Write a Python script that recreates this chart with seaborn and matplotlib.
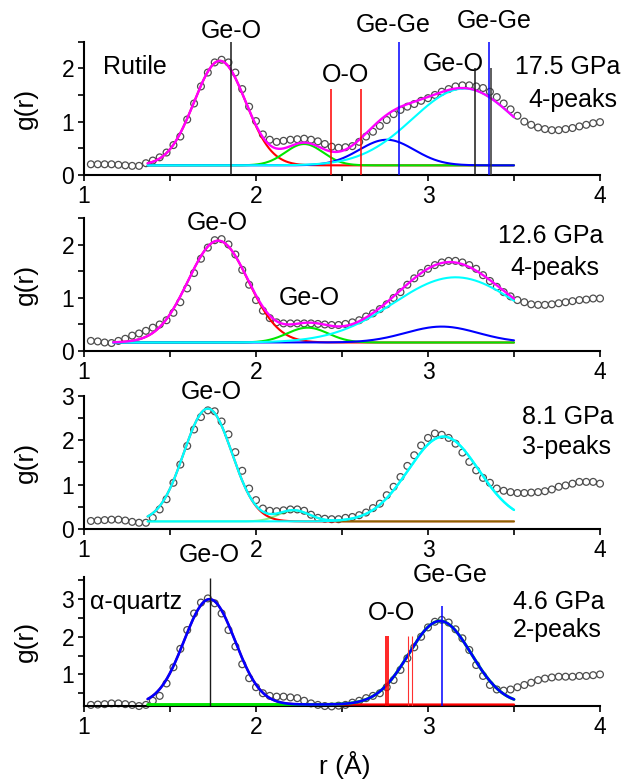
import numpy as np
import matplotlib
matplotlib.use("Agg")
import matplotlib.pyplot as plt
from matplotlib.ticker import MultipleLocator
import seaborn as sns

# measured g(r), one point every 0.04 A from 1.04 to 4.00
r_data = np.linspace(1.04, 4.0, 75)

g_175 = [0.20, 0.20, 0.20, 0.20, 0.19, 0.18, 0.17, 0.17,
         0.22, 0.27, 0.33, 0.42, 0.56, 0.72, 1.04, 1.34, 1.66,
         1.92, 2.11, 2.16, 2.11, 1.92, 1.61, 1.28, 1.01,
         0.76, 0.66, 0.62, 0.64, 0.66, 0.67, 0.68, 0.66, 0.63, 0.58, 0.53, 0.51,
         0.52, 0.54, 0.62, 0.72, 0.81, 0.92, 1.03, 1.14, 1.22, 1.28, 1.33, 1.39,
         1.44, 1.50, 1.56, 1.61, 1.66, 1.68, 1.68, 1.66, 1.63, 1.56, 1.46, 1.34,
         1.23, 1.11, 1.00, 0.94, 0.89, 0.86, 0.84, 0.84, 0.86, 0.88, 0.91, 0.94,
         0.97, 0.99]
g_126 = [0.19, 0.18, 0.16, 0.15, 0.19, 0.23, 0.29, 0.33, 0.38, 0.44,
         0.50, 0.58, 0.72, 0.92, 1.18, 1.47, 1.74, 1.95, 2.09, 2.11,
         2.01, 1.82, 1.53, 1.25, 0.96, 0.76, 0.62, 0.54, 0.52, 0.52,
         0.52, 0.52, 0.52, 0.51, 0.50, 0.49,
         0.49, 0.51, 0.54, 0.58, 0.65, 0.71, 0.79, 0.88, 1.00, 1.11,
         1.25, 1.37, 1.47, 1.55, 1.62, 1.67, 1.70, 1.70, 1.67, 1.62,
         1.55, 1.43, 1.32, 1.21, 1.11, 1.03, 0.96, 0.92, 0.88, 0.87,
         0.87, 0.88, 0.90, 0.92, 0.94, 0.96, 0.97, 0.99, 0.99]
g_81 = [0.18, 0.19, 0.20, 0.21, 0.21, 0.19, 0.16, 0.14, 0.14,
        0.25, 0.44, 0.67, 1.04, 1.45, 1.87, 2.24, 2.52, 2.67, 2.65,
        2.42, 2.13, 1.73, 1.31, 0.91, 0.65, 0.46, 0.41, 0.40, 0.42,
        0.44, 0.44, 0.41, 0.32, 0.25, 0.23, 0.22, 0.22,
        0.25, 0.27, 0.31, 0.37, 0.47, 0.57, 0.76, 0.95, 1.17, 1.42,
        1.66, 1.88, 2.05, 2.15, 2.12, 2.05, 1.92, 1.72, 1.51, 1.32,
        1.15, 1.04, 0.91, 0.86, 0.83, 0.81, 0.81, 0.82, 0.83, 0.85,
        0.89, 0.95, 0.98, 1.02, 1.06, 1.06, 1.06, 1.02]
g_46 = [0.19, 0.20, 0.21, 0.23, 0.23, 0.21, 0.19, 0.16, 0.19,
        0.30, 0.43, 0.76, 1.19, 1.68, 2.18, 2.62, 2.91, 3.02, 2.89,
        2.62, 2.18, 1.74, 1.27, 0.90, 0.66, 0.50, 0.43, 0.41, 0.41,
        0.39, 0.37, 0.30, 0.23, 0.19, 0.16, 0.15, 0.17,
        0.19, 0.25, 0.30, 0.37, 0.43, 0.50, 0.66, 0.85, 1.12, 1.43,
        1.72, 2.00, 2.25, 2.40, 2.45, 2.38, 2.20, 1.96, 1.65, 1.25,
        0.96, 0.72, 0.60, 0.57, 0.60, 0.66, 0.72, 0.78, 0.85, 0.89,
        0.92, 0.94, 0.94, 0.94, 0.96, 0.96, 0.98, 1.00]

# gaussian peak fits: centre, height above baseline, sigma
pk_175_c = [1.79, 2.28, 2.76, 3.21]
pk_175_h = [1.96, 0.40, 0.48, 1.44]
pk_175_s = [0.15, 0.11, 0.16, 0.30]
pk_126_c = [1.78, 2.30, 3.08, 3.16]
pk_126_h = [1.92, 0.28, 0.30, 1.23]
pk_126_s = [0.175, 0.12, 0.21, 0.36]
pk_81_c = [1.72, 2.22, 3.09]
pk_81_h = [2.54, 0.25, 1.91]
pk_81_s = [0.14, 0.09, 0.205]
pk_46_c = [1.73, 3.07]
pk_46_h = [2.80, 2.22]
pk_46_s = [0.148, 0.182]
base = [0.18, 0.16, 0.17, 0.20]
fit_from = [1.37, 1.17, 1.37, 1.37]
fit_to = 3.5

# bond-length markers
bond_175_r = [1.855, 2.434, 2.609, 2.83, 3.353, 3.273, 3.366]
bond_175_top = [2.5, 1.62, 1.62, 2.5, 2.5, 2.0, 2.0]
bond_46_r = [1.733, 2.757, 2.768, 2.882, 2.905, 3.08]
bond_46_top = [3.55, 2.03, 2.03, 2.03, 2.03, 2.83]

RED, GREEN, BLUE, CYAN, MAG = '#ff0000', '#00e600', '#0000ff', '#00ffff', '#ff00ff'

sns.set_theme(style="ticks", rc={'axes.edgecolor': 'black', 'xtick.color': 'black',
                                 'ytick.color': 'black', 'text.color': 'black',
                                 'axes.labelcolor': 'black'})
plt.rcParams['font.family'] = ['Liberation Sans', 'DejaVu Sans']

fs = 18
fig = plt.figure(figsize=(6.25, 7.81), dpi=100)
rects = [(0.1344, 0.7760, 0.8256, 0.1707),
         (0.1344, 0.5506, 0.8256, 0.1697),
         (0.1344, 0.3227, 0.8256, 0.1706),
         (0.1344, 0.0955, 0.8256, 0.1662)]
ylims = [(0, 2.5), (0, 2.5), (0, 3.0), (0.15, 3.6)]
g_all = [g_175, g_126, g_81, g_46]
axes = []
for k, rc in enumerate(rects):
    ax = fig.add_axes(rc)
    ax.set_xlim(1, 4)
    ax.set_ylim(*ylims[k])
    sns.scatterplot(x=r_data, y=g_all[k], ax=ax, marker='o', s=24,
                    facecolor='none', edgecolor='#4d4d4d', linewidth=0.9,
                    clip_on=False, zorder=2)
    for sp in ['top', 'right']:
        ax.spines[sp].set_visible(False)
    for sp in ['left', 'bottom']:
        ax.spines[sp].set_linewidth(1.5)
    ax.xaxis.set_major_locator(MultipleLocator(1))
    ax.xaxis.set_minor_locator(MultipleLocator(0.5))
    ax.yaxis.set_major_locator(MultipleLocator(1))
    ax.yaxis.set_minor_locator(MultipleLocator(0.5))
    ax.tick_params(which='both', direction='out', length=4, width=1.2,
                   labelsize=16.5, pad=3)
    ax.set_ylabel('g(r)', fontsize=19)
    ax.yaxis.set_label_coords(-0.112, 0.5)
    ax.yaxis.label.set_va('center')
    axes.append(ax)

def gauss(rr, c, h, s):
    return h * np.exp(-(rr - c) ** 2 / (2 * s ** 2))

def draw_fit(ax, k, cs, hs, ss, colors, total_color, lws=None, alphas=None,
             total_lw=1.7):
    rr = np.linspace(fit_from[k], fit_to, 300)
    tot = np.full_like(rr, base[k])
    for j, (c, h, s) in enumerate(zip(cs, hs, ss)):
        comp = gauss(rr, c, h, s)
        tot = tot + comp
        sns.lineplot(x=rr, y=base[k] + comp, ax=ax, color=colors[j],
                     lw=(lws[j] if lws else 1.5), sort=False, estimator=None,
                     alpha=(alphas[j] if alphas else 1), zorder=3)
    sns.lineplot(x=rr, y=tot, ax=ax, color=total_color, lw=total_lw,
                 sort=False, estimator=None, zorder=4)

# 17.5 GPa
ax = axes[0]
draw_fit(ax, 0, pk_175_c, pk_175_h, pk_175_s, [RED, GREEN, BLUE, CYAN], MAG)
ax.vlines(bond_175_r, 0, bond_175_top, lw=1.1,
          colors=['k', RED, RED, BLUE, BLUE, 'k', '#333333'], zorder=5)
for t, x, y in [('Ge-O', 1.855, 2.70), ('Ge-Ge', 2.80, 2.82),
                ('Ge-Ge', 3.384, 2.88), ('O-O', 2.52, 1.88),
                ('Ge-O', 3.145, 2.08)]:
    ax.text(x, y, t, fontsize=fs, ha='center', va='center')
ax.text(1.11, 2.03, 'Rutile', fontsize=fs, ha='left', va='center')
ax.text(3.506, 2.03, '17.5 GPa', fontsize=fs, ha='left', va='center')
ax.text(3.581, 1.41, '4-peaks', fontsize=fs, ha='left', va='center')

# 12.6 GPa
ax = axes[1]
draw_fit(ax, 1, pk_126_c, pk_126_h, pk_126_s, [RED, GREEN, BLUE, CYAN], MAG)
ax.text(1.773, 2.41, 'Ge-O', fontsize=fs, ha='center', va='center')
ax.text(2.31, 0.99, 'Ge-O', fontsize=fs, ha='center', va='center')
ax.text(3.407, 2.16, '12.6 GPa', fontsize=fs, ha='left', va='center')
ax.text(3.481, 1.56, '4-peaks', fontsize=fs, ha='left', va='center')

# 8.1 GPa
ax = axes[2]
draw_fit(ax, 2, pk_81_c, pk_81_h, pk_81_s, [RED, '#00dd00', CYAN], CYAN,
         alphas=[1, 0.45, 1])
ax.text(1.74, 3.09, 'Ge-O', fontsize=fs, ha='center', va='center')
ax.text(3.545, 2.52, '8.1 GPa', fontsize=fs, ha='left', va='center')
ax.text(3.545, 1.85, '3-peaks', fontsize=fs, ha='left', va='center')

# 4.6 GPa
ax = axes[3]
draw_fit(ax, 3, pk_46_c, pk_46_h, pk_46_s, [RED, GREEN], BLUE, lws=[1.6, 2.1],
         total_lw=1.9)
ax.vlines(bond_46_r, ylims[3][0], bond_46_top,
          lw=[1.0, 1.2, 1.2, 0.8, 0.8, 1.1],
          colors=['k', RED, RED, '#ff3030', '#ff3030', BLUE], zorder=5)
ax.text(1.035, 2.93, 'α-quartz', fontsize=fs, ha='left', va='center')
ax.text(1.73, 4.18, 'Ge-O', fontsize=fs, ha='center', va='center')
ax.text(3.128, 3.64, 'Ge-Ge', fontsize=fs, ha='center', va='center')
ax.text(2.79, 2.62, 'O-O', fontsize=fs, ha='center', va='center')
ax.text(3.494, 2.93, '4.6 GPa', fontsize=fs, ha='left', va='center')
ax.text(3.494, 2.18, '2-peaks', fontsize=fs, ha='left', va='center')
ax.set_yticks([1, 2, 3])

fig.text(345 / 625, 1 - 765 / 781, 'r (Å)', fontsize=19,
         ha='center', va='center')

fig.savefig('out.png', dpi=100)
